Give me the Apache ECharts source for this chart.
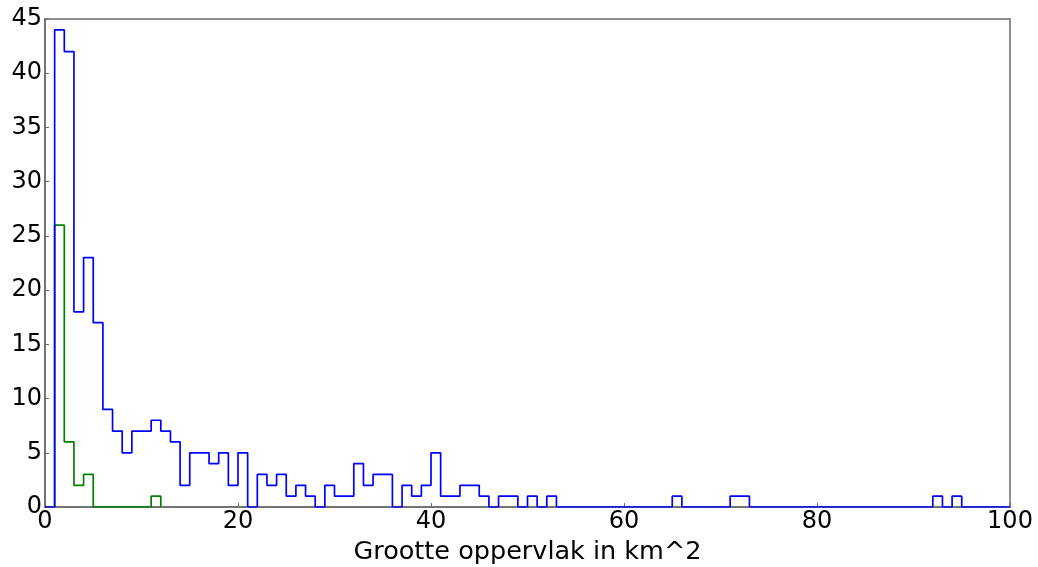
<!DOCTYPE html>
<html>
<head>
<meta charset="utf-8">
<script src="https://cdn.jsdelivr.net/npm/echarts@6/dist/echarts.min.js"></script>
<style>
html,body{margin:0;padding:0;background:#fff;}
#chart{width:1038px;height:567px;}
</style>
</head>
<body>
<div id="chart"></div>
<script>
// Histogram bin edges start (width 1) and counts
const blueStart = 0;
const blueCounts = [
  0, 44, 42, 18, 23, 17, 9, 7, 5, 7,
  7, 8, 7, 6, 2, 5, 5, 4, 5, 2,
  5, 0, 3, 2, 3, 1, 2, 1, 0, 2,
  1, 1, 4, 2, 3, 3, 0, 2, 1, 2,
  5, 1, 1, 2, 2, 1, 0, 1, 1, 0,
  1, 0, 1, 0, 0, 0, 0, 0, 0, 0,
  0, 0, 0, 0, 0, 1, 0, 0, 0, 0,
  0, 1, 1, 0, 0, 0, 0, 0, 0, 0,
  0, 0, 0, 0, 0, 0, 0, 0, 0, 0,
  0, 0, 1, 0, 1, 0, 0, 0, 0, 0
];
const greenStart = 1;
const greenCounts = [26, 6, 2, 3, 0, 0, 0, 0, 0, 0, 1];
const binWidth = 1;
const xTicks = [0, 20, 40, 60, 80, 100];
const yTicks = [0, 5, 10, 15, 20, 25, 30, 35, 40, 45];
const xTitle = 'Grootte oppervlak in km^2';

function stepData(start, counts) {
  const pts = [[start, 0]];
  counts.forEach((c, i) => pts.push([start + i * binWidth, c]));
  const end = start + counts.length * binWidth;
  pts.push([end, counts[counts.length - 1]]);
  pts.push([end, 0]);
  return pts;
}

const chart = echarts.init(document.getElementById('chart'), null, {renderer: 'canvas'});
const axisLineStyle = {color: '#6b6b6b', width: 1.5};
const font = 'DejaVu Sans';
chart.setOption({
  animation: false,
  backgroundColor: '#ffffff',
  grid: {left: 45, right: 28, top: 19, bottom: 60, show: true, borderColor: '#6b6b6b', borderWidth: 1.5,
         containLabel: false, outerBoundsMode: 'none'},
  xAxis: {
    type: 'value', min: xTicks[0], max: xTicks[xTicks.length - 1], interval: 20,
    axisLine: {show: true, onZero: false, lineStyle: axisLineStyle},
    axisTick: {show: true, inside: true, length: 4, lineStyle: {color: '#6b6b6b'}},
    splitLine: {show: false},
    axisLabel: {fontFamily: font, fontSize: 24, color: '#000', margin: 3},
    name: xTitle, nameLocation: 'middle', nameGap: 29,
    nameTextStyle: {fontFamily: font, fontSize: 25.5, color: '#000'}
  },
  yAxis: {
    type: 'value', min: yTicks[0], max: yTicks[yTicks.length - 1], interval: 5,
    axisLine: {show: true, lineStyle: axisLineStyle},
    axisTick: {show: true, inside: true, length: 4, lineStyle: {color: '#6b6b6b'}},
    splitLine: {show: false},
    axisLabel: {fontFamily: font, fontSize: 24, color: '#000', margin: 3}
  },
  series: [
    {
      type: 'line', step: 'end', data: stepData(greenStart, greenCounts),
      showSymbol: false, symbol: 'none', z: 2,
      lineStyle: {color: '#008000', width: 1.7}
    },
    {
      type: 'line', step: 'end', data: stepData(blueStart, blueCounts),
      showSymbol: false, symbol: 'none', z: 3,
      lineStyle: {color: '#0000ff', width: 1.7}
    }
  ]
});
</script>
</body>
</html>
